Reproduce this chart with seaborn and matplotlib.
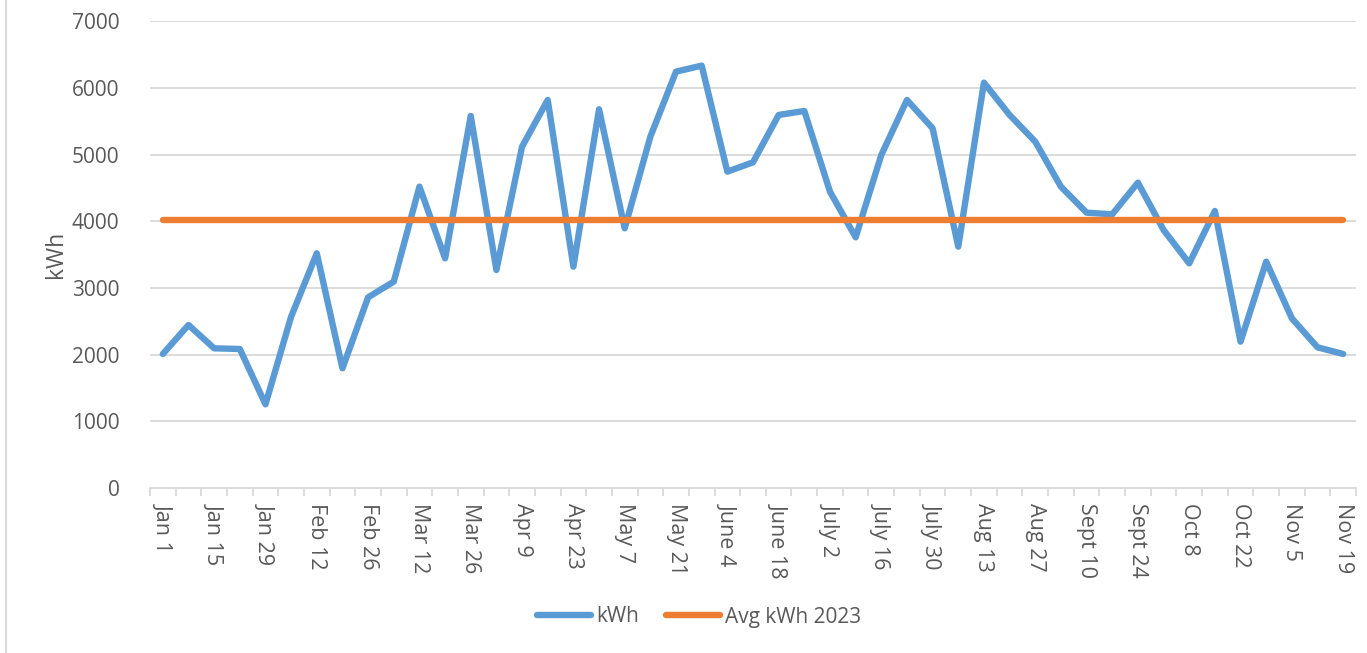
import numpy as np
import pandas as pd
import matplotlib
matplotlib.use("Agg")
import matplotlib.pyplot as plt
import seaborn as sns
from matplotlib.lines import Line2D

weeks = ["Jan 1", "Jan 8", "Jan 15", "Jan 22", "Jan 29", "Feb 5", "Feb 12", "Feb 19",
         "Feb 26", "Mar 5", "Mar 12", "Mar 19", "Mar 26", "Apr 2", "Apr 9", "Apr 16",
         "Apr 23", "Apr 30", "May 7", "May 14", "May 21", "May 28", "June 4", "June 11",
         "June 18", "June 25", "July 2", "July 9", "July 16", "July 23", "July 30", "Aug 6",
         "Aug 13", "Aug 20", "Aug 27", "Sept 3", "Sept 10", "Sept 17", "Sept 24", "Oct 1",
         "Oct 8", "Oct 15", "Oct 22", "Oct 29", "Nov 5", "Nov 12", "Nov 19"]
kwh = [2010, 2445, 2095, 2085, 1255, 2570, 3520, 1795, 2860, 3095, 4520, 3445, 5580,
       3270, 5120, 5820, 3320, 5680, 3895, 5270, 6245, 6335, 4745, 4885, 5595, 5655,
       4445, 3760, 4995, 5820, 5395, 3620, 6080, 5595, 5195, 4520, 4130, 4105, 4580,
       3870, 3370, 4155, 2195, 3395, 2545, 2110, 2010]
avg_kwh_2023 = [4015] * len(weeks)
y_ticks = [0, 1000, 2000, 3000, 4000, 5000, 6000, 7000]

BLUE = "#5B9BD5"
ORANGE = "#ED7D31"
GRID = "#D9D9D9"
TEXT = "#595959"

sns.set_theme(style="white")
plt.rcParams["font.family"] = ["Open Sans", "DejaVu Sans"]

W, H = 1367, 653
fig = plt.figure(figsize=(W / 100, H / 100), dpi=100)
ax = fig.add_axes([150 / W, 1 - 488 / H, (1356 - 150) / W, (488 - 21.3) / H])

df = pd.DataFrame({"week": weeks, "kWh": kwh, "Avg kWh 2023": avg_kwh_2023})
df["pos"] = np.arange(len(weeks))

sns.lineplot(data=df, x="pos", y="kWh", ax=ax, color=BLUE, linewidth=4.6,
             solid_capstyle="round", solid_joinstyle="round", label="kWh", legend=False)
sns.lineplot(data=df, x="pos", y="Avg kWh 2023", ax=ax, color=ORANGE, linewidth=4.6,
             solid_capstyle="round", label="Avg kWh 2023", legend=False)

ax.set_xlim(-0.5, len(weeks) - 0.5)
ax.set_ylim(0, 7000)
ax.set_yticks(y_ticks)
ax.yaxis.grid(True, color=GRID, linewidth=1.3)
ax.set_axisbelow(True)
for s in ["top", "right", "left"]:
    ax.spines[s].set_visible(False)
ax.spines["bottom"].set_color(GRID)
ax.spines["bottom"].set_linewidth(1.3)

ax.set_xticks(np.arange(0, len(weeks), 2))
ax.set_xticklabels(weeks[::2], rotation=-90, fontsize=15.5, color=TEXT)
ax.set_xticks(np.arange(-0.5, len(weeks), 1), minor=True)
ax.tick_params(axis="x", which="major", length=0, pad=11)
ax.tick_params(axis="x", which="minor", length=6, width=1.3, color=GRID, bottom=True)
ax.tick_params(axis="y", length=0, pad=22, labelsize=15, labelcolor=TEXT)
for lbl in ax.get_xticklabels():
    lbl.set_verticalalignment("top")

ax.set_xlabel("")
ax.set_ylabel("kWh", fontsize=16.5, color=TEXT, labelpad=3)

handles = [Line2D([], [], color=BLUE, linewidth=4.6, solid_capstyle="round"),
           Line2D([], [], color=ORANGE, linewidth=4.6, solid_capstyle="round")]
fig.legend(handles, ["kWh", "Avg kWh 2023"], loc="center",
           bbox_to_anchor=(699 / W, 1 - 617 / H), ncol=2, frameon=False,
           fontsize=15, labelcolor=TEXT, handlelength=2.6, handletextpad=0.25,
           columnspacing=1.3)

fig.add_artist(Line2D([5.5 / W, 5.5 / W], [0, 1], color=GRID, linewidth=1.5,
                      transform=fig.transFigure))

fig.savefig("out.png", dpi=100, facecolor="white")
